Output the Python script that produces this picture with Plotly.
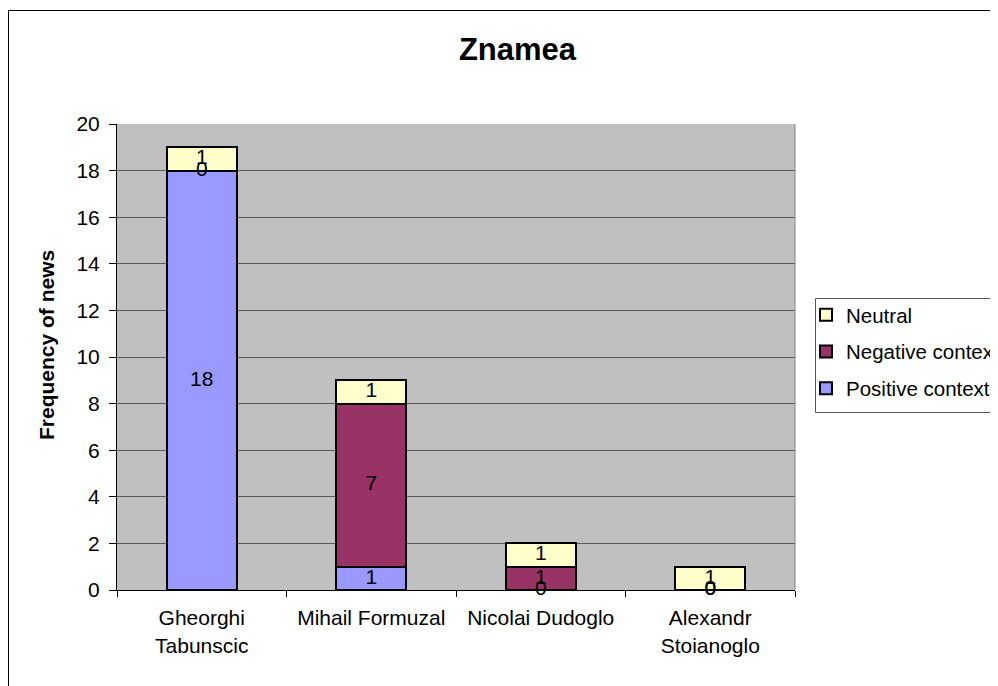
import plotly.graph_objects as go

# data
candidates = ["Gheorghi<br>Tabunscic", "Mihail Formuzal", "Nicolai Dudoglo", "Alexandr<br>Stoianoglo"]
positive = [18, 1, 0, 0]
negative = [0, 7, 1, 0]
neutral = [1, 1, 1, 1]
y_ticks = list(range(0, 21, 2))

FONT = "Liberation Sans, Arial, sans-serif"
OFF = 8  # the page body margin shifts the figure by this much
W, H = 998 - OFF, 686 - OFF
L, T = 117 - OFF, 124 - OFF
R, B = 203, 96
PW, PH = W - L - R, H - T - B


def px_x(p):
    # page pixel -> paper coordinate
    return (p - OFF - L) / PW


def px_y(p):
    return (H - B - (p - OFF)) / PH


series = [
    ("Positive context", positive, "#9999FF"),
    ("Negative context", negative, "#993366"),
    ("Neutral", neutral, "#FFFFCC"),
]

fig = go.Figure()
for i, (name, vals, color) in enumerate(series):
    fig.add_trace(go.Bar(
        x=candidates, y=vals, name=name, legendgroup=name,
        legendrank=1000 - i,  # legend lists top segment first
        marker=dict(color=color, line=dict(color="black", width=2)),
    ))

# data labels, placed in the middle of each stacked segment
base = [0] * len(candidates)
for name, vals, color in series:
    ys = [b + v / 2 for b, v in zip(base, vals)]
    fig.add_trace(go.Scatter(
        x=candidates, y=ys, mode="text", text=[str(v) for v in vals],
        textfont=dict(family=FONT, size=21, color="black"),
        showlegend=False, cliponaxis=False, hoverinfo="skip",
    ))
    base = [b + v for b, v in zip(base, vals)]

fig.update_layout(
    width=W, height=H,
    margin=dict(l=L, r=R, t=T, b=B, autoexpand=False),
    barmode="stack", bargap=0.585,
    paper_bgcolor="white", plot_bgcolor="#C0C0C0",
    font=dict(family=FONT, size=21, color="black"),
    title=dict(text="Znamea", x=(517.5 - OFF) / W, xref="container", xanchor="center",
               y=1 - (49 - OFF) / H, yref="container", yanchor="middle",
               font=dict(family=FONT, size=31, weight="bold", color="black")),
    legend=dict(x=px_x(806), y=px_y(295), xanchor="left", yanchor="top",
                traceorder="grouped", bgcolor="rgba(0,0,0,0)",
                borderwidth=0, tracegroupgap=7,
                font=dict(family=FONT, size=20.5, color="black")),
    showlegend=True,
)

fig.update_xaxes(
    showgrid=False, showline=True, linecolor="black", linewidth=1,
    ticks="outside", tickson="boundaries", ticklen=6, tickcolor="black",
    ticklabelstandoff=9,
    tickfont=dict(family=FONT, size=21, color="black"),
)
fig.update_yaxes(
    range=[0, 20], tickvals=y_ticks, showgrid=True, gridcolor="#595959", gridwidth=1,
    showline=True, linecolor="black", linewidth=1,
    ticks="outside", ticklen=7, tickcolor="black", zeroline=False,
    ticklabelstandoff=5,
    tickfont=dict(family=FONT, size=21, color="black"),
)

# y axis title
fig.add_annotation(
    text="Frequency of news", xref="paper", yref="paper",
    x=px_x(46), y=px_y(345), textangle=-90, showarrow=False,
    xanchor="center", yanchor="middle",
    font=dict(family=FONT, size=21, weight="bold", color="black"),
)

# right edge of the plot area
fig.add_shape(type="line", xref="paper", yref="paper", x0=1, x1=1, y0=0, y1=1,
              line=dict(color="#808080", width=1))
# legend frame
fig.add_shape(type="rect", xref="paper", yref="paper",
              x0=px_x(815.5), x1=px_x(1030), y0=px_y(412.5), y1=px_y(298.5),
              line=dict(color="#555555", width=1))
# chart border
fig.add_shape(type="rect", xref="paper", yref="paper",
              x0=px_x(8.5), x1=px_x(1030), y0=px_y(720), y1=px_y(10.5),
              line=dict(color="black", width=1))

fig.write_html("out.html")
